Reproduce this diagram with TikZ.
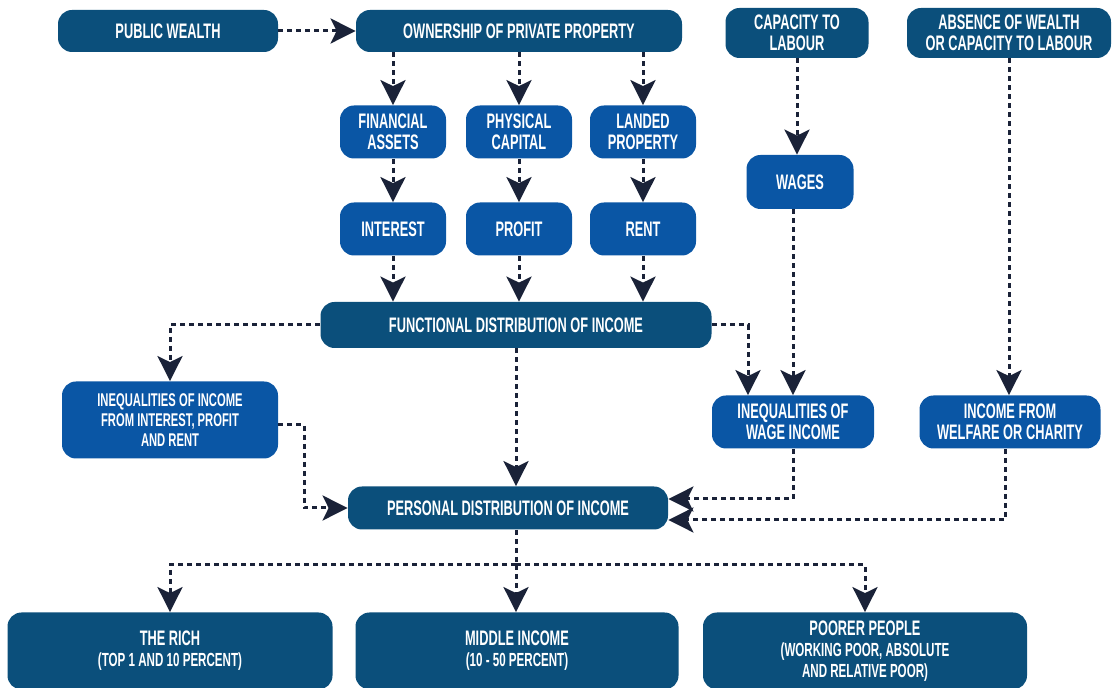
\documentclass[tikz,border=0pt]{standalone}
\usepackage{fontspec}
\newfontfamily\boxfont{Liberation Sans}[FakeStretch=0.61]
\usetikzlibrary{arrows.meta}
\definecolor{darkbox}{HTML}{0B4F7B}
\definecolor{brightbox}{HTML}{0A56A5}
\definecolor{arrowink}{HTML}{1A2238}

\begin{document}
\begin{tikzpicture}[
        x=0.5pt, y=-0.5pt,
        box/.style={rounded corners=7pt, text=white, align=center, inner sep=0pt,
            font=\boxfont\bfseries\fontsize{10.5}{10.5}\selectfont},
        mainbox/.style={box, fill=darkbox},
        subbox/.style={box, fill=brightbox},
        flow/.style={draw=arrowink, line width=1.5pt, dash pattern=on 2.5pt off 2pt,
            -{Stealth[length=12.5pt, width=12.5pt, inset=3pt, fill=arrowink]}},
        line/.style={draw=arrowink, line width=1.5pt, dash pattern=on 2.5pt off 2pt}
    ]

        \clip (0,0) rectangle (1113,688);

        % Sources
        \node[mainbox, minimum width=110pt, minimum height=21pt] (pw) at (168,31) {PUBLIC WEALTH};
        \node[mainbox, minimum width=163pt, minimum height=21pt] (own) at (519,31) {OWNERSHIP OF PRIVATE PROPERTY};
        \node[mainbox, minimum width=71.5pt, minimum height=25pt] (cap) at (797,33) {CAPACITY TO\\LABOUR};
        \node[mainbox, minimum width=102pt, minimum height=25pt] (absn) at (1009,33) {ABSENCE OF WEALTH\\OR CAPACITY TO LABOUR};

        % Assets and incomes
        \node[subbox, minimum width=53pt, minimum height=26.5pt] (fin) at (393,132) {FINANCIAL\\ASSETS};
        \node[subbox, minimum width=53pt, minimum height=26.5pt] (phys) at (519,132) {PHYSICAL\\CAPITAL};
        \node[subbox, minimum width=53pt, minimum height=26.5pt] (land) at (643,132) {LANDED\\PROPERTY};
        \node[subbox, minimum width=53.5pt, minimum height=27pt] (wages) at (800,182) {WAGES};
        \node[subbox, minimum width=53pt, minimum height=26.5pt] (intr) at (393,229) {INTEREST};
        \node[subbox, minimum width=53pt, minimum height=26.5pt] (prof) at (519,229) {PROFIT};
        \node[subbox, minimum width=53pt, minimum height=26.5pt] (rent) at (643,229) {RENT};

        % Distributions
        \node[mainbox, minimum width=195.5pt, minimum height=23pt] (func) at (516,325) {FUNCTIONAL DISTRIBUTION OF INCOME};
        \node[subbox, minimum width=108pt, minimum height=38.5pt,
            font=\boxfont\bfseries\fontsize{9.2}{10}\selectfont] (ineqi) at (170,420)
            {INEQUALITIES OF INCOME\\FROM INTEREST, PROFIT\\AND RENT};
        \node[subbox, minimum width=81pt, minimum height=26.5pt] (ineqw) at (793,422) {INEQUALITIES OF\\WAGE INCOME};
        \node[subbox, minimum width=90.5pt, minimum height=26.5pt] (welf) at (1010,422) {INCOME FROM\\WELFARE OR CHARITY};
        \node[mainbox, minimum width=160pt, minimum height=21.5pt] (pers) at (508,508) {PERSONAL DISTRIBUTION OF INCOME};

        % Groups
        \node[mainbox, minimum width=162.5pt, minimum height=38.5pt] (rich) at (170,651)
            {THE RICH\\{\fontsize{9.5}{10.5}\selectfont (TOP 1 AND 10 PERCENT)}};
        \node[mainbox, minimum width=161.5pt, minimum height=38.5pt] (mid) at (517,651)
            {MIDDLE INCOME\\{\fontsize{9.5}{10.5}\selectfont (10 - 50 PERCENT)}};
        \node[mainbox, minimum width=162pt, minimum height=38.5pt] (poor) at (865,651)
            {POORER PEOPLE\\{\fontsize{9.5}{10}\selectfont (WORKING POOR, ABSOLUTE}\\{\fontsize{9.5}{10}\selectfont AND RELATIVE POOR)}};

        % Arrows
        \draw[flow] (pw) -- (own);
        \draw[flow] (own.south -| fin.north) -- (fin.north);
        \draw[flow] (own.south -| phys.north) -- (phys.north);
        \draw[flow] (own.south -| land.north) -- (land.north);
        \draw[flow] (fin) -- (intr);
        \draw[flow] (phys) -- (prof);
        \draw[flow] (land) -- (rent);
        \draw[flow] (intr.south) -- (intr.south |- func.north);
        \draw[flow] (prof.south) -- (prof.south |- func.north);
        \draw[flow] (rent.south) -- (rent.south |- func.north);
        \draw[flow] (cap.south) -- (cap.south |- wages.north);
        \draw[flow] (wages.south -| ineqw.north) -- (ineqw.north);
        \draw[flow] (absn.south) -- (absn.south |- welf.north);

        \draw[flow] (func.west) -| (ineqi.north);
        \draw[flow] (func.east) -| ([xshift=-22.5pt]ineqw.north);
        \draw[flow] (func.south) -- (func.south |- pers.north);

        \draw[flow] ([yshift=-2.5pt]ineqi.east) -- ++(13pt,0) |- (pers.west);
        \draw[flow] (ineqw.south) |- ([yshift=4.5pt]pers.east);
        \draw[flow] ([xshift=-2.5pt]welf.south) |- ([yshift=-6pt]pers.east);

        % Split to groups
        \coordinate (split) at (516,565);
        \draw[line] (pers.south -| func.south) -- (split);
        \draw[flow] (split) -| (rich.north);
        \draw[flow] (split) -- (split |- mid.north);
        \draw[flow] (split) -| (poor.north);

    \end{tikzpicture}
\end{document}
